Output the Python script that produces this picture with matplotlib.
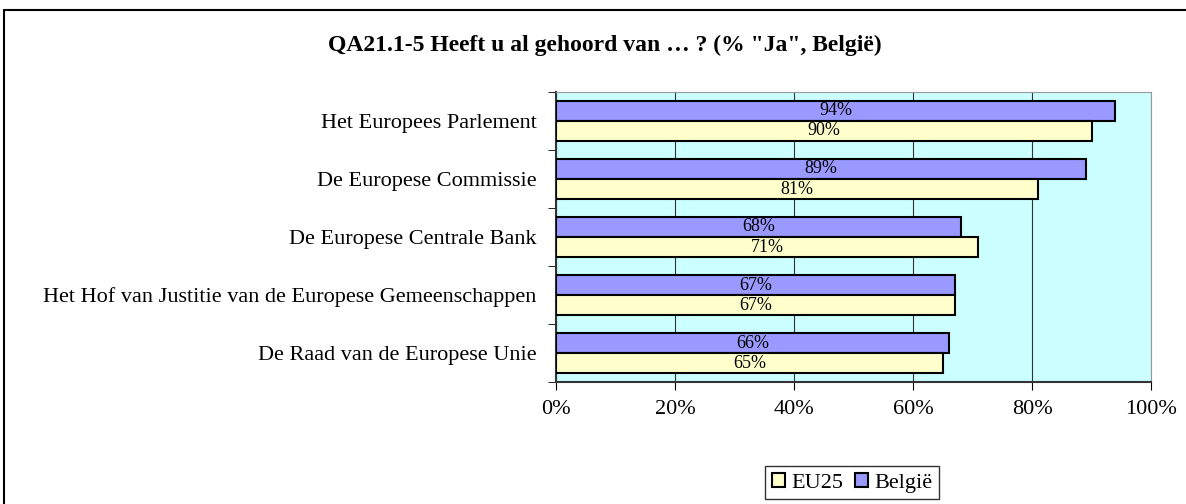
import matplotlib.pyplot as plt
from matplotlib.patches import Rectangle
import numpy as np

plt.rcParams['font.family'] = ['Liberation Serif', 'DejaVu Serif']

categories = ['Het Europees Parlement', 'De Europese Commissie', 'De Europese Centrale Bank',
              'Het Hof van Justitie van de Europese Gemeenschappen', 'De Raad van de Europese Unie']
belgie = [94, 89, 68, 67, 66]
eu25 = [90, 81, 71, 67, 65]
xticks = [0, 20, 40, 60, 80, 100]

fig = plt.figure(figsize=(11.86, 5.04), dpi=100)
ax = fig.add_axes([0.4688, 0.242, 0.5017, 0.5755])
ax.set_facecolor('#CCFFFF')

y = np.arange(len(categories))
h = 0.345
b1 = ax.barh(y - h / 2, belgie, height=h, color='#9999FF', edgecolor='black', linewidth=1.5,
             label='België', zorder=3)
b2 = ax.barh(y + h / 2, eu25, height=h, color='#FFFFCC', edgecolor='black', linewidth=1.5,
             label='EU25', zorder=3)

for bars, vals in ((b1, belgie), (b2, eu25)):
    for bar, v in zip(bars, vals):
        ax.text(v / 2, bar.get_y() + bar.get_height() / 2, f'{v}%', ha='center', va='center',
                fontsize=13, zorder=4)

ax.set_xlim(0, 100)
ax.set_ylim(len(categories) - 0.5, -0.5)
ax.set_xticks(xticks)
ax.set_xticklabels([f'{t}%' for t in xticks], fontsize=16)
ax.set_yticks(y)
ax.set_yticklabels(categories, fontsize=16)
ax.tick_params(axis='y', length=0, pad=14)
ax.set_yticks(np.arange(-0.5, len(categories)), minor=True)
ax.tick_params(axis='y', which='minor', length=6, color='black')
ax.tick_params(axis='x', length=6, direction='out', color='black', pad=7)
ax.grid(axis='x', color='#333333', linewidth=0.8, zorder=1)

for s in ['top', 'right']:
    ax.spines[s].set_color('#999999')
for s in ['left', 'bottom']:
    ax.spines[s].set_color('#333333')
    ax.spines[s].set_linewidth(1.5)

fig.text(0.51, 0.91, 'QA21.1-5 Heeft u al gehoord van … ? (% "Ja", België)', ha='center', va='center',
         fontsize=17, fontweight='bold')

handles = [b2, b1]
leg = fig.legend(handles, ['EU25', 'België'], loc='center', bbox_to_anchor=(0.7185, 0.042), ncol=2,
                 fontsize=16, frameon=True, fancybox=False, edgecolor='black', handlelength=0.6,
                 handleheight=0.6, handletextpad=0.3, columnspacing=0.5, borderpad=0.3)
leg.get_frame().set_linewidth(1.0)

fig.patches.append(Rectangle((4 / 1186, -0.05), 1.1, (504 - 10) / 504 + 0.05, transform=fig.transFigure,
                             fill=False, edgecolor='black', linewidth=1.5, clip_on=False))

fig.savefig('out.png', dpi=100)
